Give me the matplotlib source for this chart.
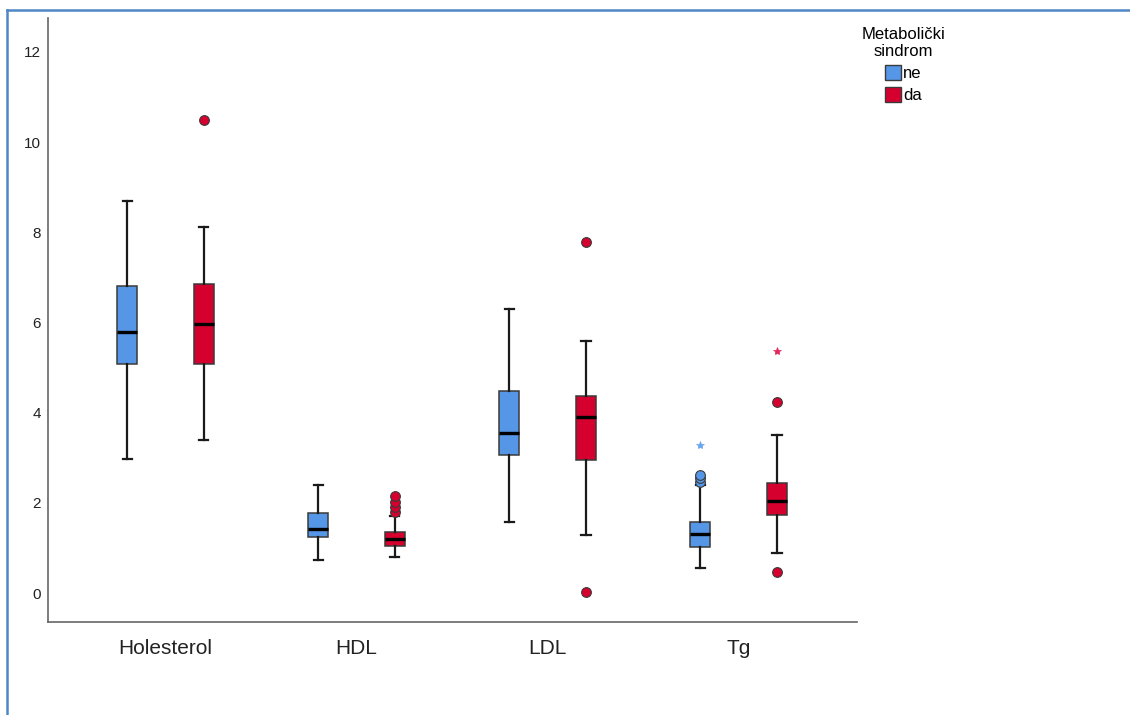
import matplotlib
matplotlib.use("Agg")
import matplotlib.pyplot as plt
from matplotlib.patches import Patch
from matplotlib.lines import Line2D

plt.rcParams['font.family'] = ['Liberation Sans Narrow', 'Liberation Sans', 'DejaVu Sans']

categories = ["Holesterol", "HDL", "LDL", "Tg"]
groups = ["ne", "da"]
legend_title = "Metabolički\nsindrom"

# five-number summaries per variable: [whislo, q1, med, q3, whishi]
ne_stats = [
    [2.97, 5.09, 5.79, 6.81, 8.69],   # Holesterol
    [0.73, 1.25, 1.43, 1.77, 2.39],   # HDL
    [1.58, 3.06, 3.56, 4.48, 6.30],   # LDL
    [0.56, 1.03, 1.30, 1.58, 2.39],   # Tg
]
da_stats = [
    [3.39, 5.09, 5.96, 6.85, 8.11],
    [0.80, 1.04, 1.21, 1.36, 1.72],
    [1.29, 2.96, 3.91, 4.36, 5.59],
    [0.89, 1.73, 2.04, 2.45, 3.50],
]
ne_outliers = [[], [], [], [2.47, 2.55, 2.62]]
da_outliers = [[10.49], [1.80, 1.91, 2.02, 2.15], [7.78, 0.03], [4.24, 0.47]]
ne_extremes = [[], [], [], [3.28]]
da_extremes = [[], [], [], [5.37]]

colors = {"ne": "#5596e6", "da": "#d6002f"}
star_colors = {"ne": "#6aa4ee", "da": "#e0265a"}

fig = plt.figure(figsize=(11.3, 7.15), dpi=100)
ax = fig.add_axes([48/1130, 1 - 622/715, (857-48)/1130, (622-18)/715])

offset = 0.2
width = 0.105

for gi, (g, stats, outs, extr) in enumerate(zip(groups,
                                                 [ne_stats, da_stats],
                                                 [ne_outliers, da_outliers],
                                                 [ne_extremes, da_extremes])):
    sgn = -1 if gi == 0 else 1
    bxstats = []
    for s, o in zip(stats, outs):
        bxstats.append(dict(whislo=s[0], q1=s[1], med=s[2], q3=s[3], whishi=s[4], fliers=o))
    pos = [i + sgn * offset for i in range(len(categories))]
    ax.bxp(bxstats, positions=pos, widths=width, capwidths=0.05, patch_artist=True,
           boxprops=dict(facecolor=colors[g], edgecolor="#3a3a3a", linewidth=1.1),
           medianprops=dict(color="black", linewidth=2.4, solid_capstyle="butt"),
           whiskerprops=dict(color="#1a1a1a", linewidth=1.6),
           capprops=dict(color="#1a1a1a", linewidth=1.6),
           flierprops=dict(marker="o", markerfacecolor=colors[g], markeredgecolor="#3a3a3a",
                           markeredgewidth=0.8, markersize=7, linestyle="none"),
           zorder=3)
    for i, ev in enumerate(extr):
        for v in ev:
            ax.plot([pos[i]], [v], marker="*", color=star_colors[g], markersize=6,
                    markeredgewidth=0.5, linestyle="none", zorder=4)

ax.set_xlim(-0.615, 3.62)
ax.set_ylim(-0.64, 12.75)
ax.set_yticks([0, 2, 4, 6, 8, 10, 12])
ax.set_xticks(range(len(categories)))
ax.set_xticklabels(categories, fontsize=15)
ax.tick_params(axis="y", length=0, pad=5, labelsize=11, labelcolor="#222222")
ax.tick_params(axis="x", length=0, pad=12, labelcolor="#222222")
for sp in ["top", "right"]:
    ax.spines[sp].set_visible(False)
for sp in ["left", "bottom"]:
    ax.spines[sp].set_color("#666666")
    ax.spines[sp].set_linewidth(1.2)

handles = [Patch(facecolor=colors[g], edgecolor="#3a3a3a", linewidth=1.0, label=g) for g in groups]
leg = fig.legend(handles=handles, title=legend_title, loc="upper left",
                 bbox_to_anchor=(850/1130, 1 - 15/715), frameon=False,
                 fontsize=12, title_fontsize=12, handlelength=0.95, handleheight=1.0,
                 handletextpad=0.15, labelspacing=0.35, borderpad=0.2)
leg.get_title().set_multialignment("center")

# screenshot frame (left & top blue border)
fig.add_artist(Line2D([7/1130, 7/1130], [0, 1 - 10/715], color="#4f86c6", linewidth=1.8,
                      transform=fig.transFigure))
fig.add_artist(Line2D([7/1130, 1], [1 - 10/715, 1 - 10/715], color="#4f86c6", linewidth=1.8,
                      transform=fig.transFigure))

fig.savefig("out.png", dpi=100)
